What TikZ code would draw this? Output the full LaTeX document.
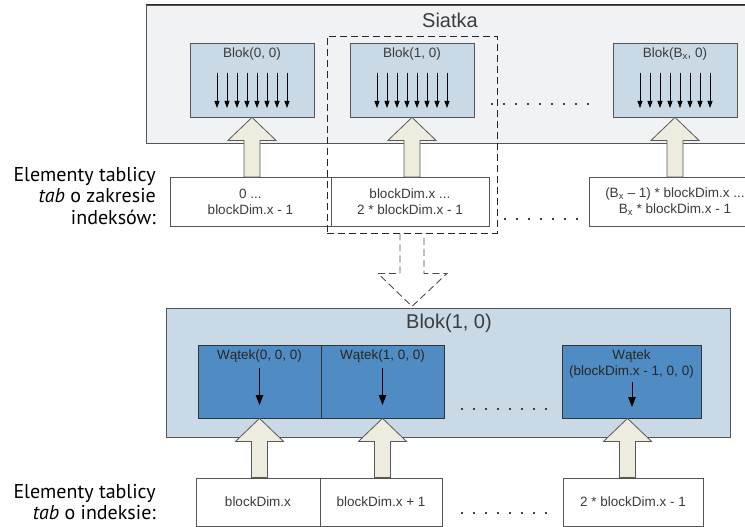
\documentclass[tikz,border=0pt]{standalone}
\usepackage{fontspec}
\setmainfont{Liberation Sans}
\newfontfamily\labfont{PT Sans}
\usepackage{tikz}
\usetikzlibrary{positioning,calc,arrows.meta}

\definecolor{gridfill}{HTML}{F1F2F4}
\definecolor{blokfill}{HTML}{C9D9E6}
\definecolor{watekfill}{HTML}{4F8CC4}
\definecolor{arrfill}{HTML}{EEECDF}
\definecolor{txtgray}{HTML}{3C3C3C}
\definecolor{edgegray}{HTML}{555555}

\tikzset{
  siatkabox/.style={draw=edgegray, fill=gridfill, line width=0.8pt, inner sep=0pt,
    minimum width=620pt, minimum height=138pt},
  blokbox/.style={draw=edgegray, fill=blokfill, line width=0.8pt, inner sep=0pt,
    minimum width=124pt, minimum height=74pt},
  bigblok/.style={draw=edgegray, fill=blokfill, line width=0.8pt, inner sep=0pt,
    minimum width=564pt, minimum height=129pt},
  watek/.style={draw=black!80, fill=watekfill, line width=0.8pt, inner sep=0pt,
    minimum width=123pt, minimum height=73pt},
  elem/.style={draw=edgegray, fill=white, line width=0.8pt, inner sep=0pt,
    minimum height=49pt, align=center, text=txtgray, font=\fontsize{13.5}{16}\selectfont},
  small/.style={text=txtgray, font=\fontsize{13.5}{16}\selectfont, align=center, inner sep=0pt},
  title/.style={text=txtgray, font=\fontsize{20}{24}\selectfont, inner sep=0pt},
  lab/.style={anchor=east, align=right, inner sep=0pt, font=\labfont\fontsize{20}{21.5}\selectfont},
  thr/.style={line width=0.8pt, -{Triangle[width=5pt,length=7pt]}},
  thrbig/.style={line width=1pt, -{Triangle[width=7.5pt,length=10pt]}},
  fatarr/.style={fill=arrfill, draw=gray!70!black, line width=0.8pt, line join=miter},
  selbox/.style={draw=black!85, dash pattern=on 7pt off 4pt, line width=0.9pt,
    inner sep=0pt, minimum width=170pt, minimum height=197pt},
  selarr/.style={draw=black!70, dash pattern=on 7pt off 4pt, line width=0.9pt},
  dots/.style={line width=1.6pt, dash pattern=on 1.6pt off 10.4pt, draw=black!75}
}

% fat up arrow: #1 = tip, #2 = foot
\newcommand{\fatarrow}[2]{%
  \draw[fatarr] let \p1=(#1), \p2=(#2) in
    (\x1,\y1) -- (\x1+24pt,\y1-23pt) -- (\x1+8pt,\y1-23pt) -- (\x1+8pt,\y2)
    -- (\x1-8pt,\y2) -- (\x1-8pt,\y1-23pt) -- (\x1-24pt,\y1-23pt) -- cycle;}

\begin{document}
\begin{tikzpicture}[x=1pt,y=-1pt]
    \useasboundingbox (0,0) rectangle (745,527);
    \clip (0,0) rectangle (745,527);

    % Grid
    \node[siatkabox] (siatka) at (456,74) {};
    \draw[line width=1.6pt, black!85] (siatka.north west) -- (siatka.north east);
    \node[title] (siatkaT) at (450,20) {Siatka};

    % Blocks in the grid
    \node[blokbox] (b0) at (252,80) {};
    \node[blokbox] (b1) at (412,80) {};
    \node[blokbox] (bx) at (675,80) {};
    \node[small] (b0T) at ($(b0.north)+(0,11)$) {Blok(0, 0)};
    \node[small] (b1T) at ($(b1.north)+(0,11)$) {Blok(1, 0)};
    \node[small] (bxT) at ($(bx.north)+(0,11)$) {Blok(B\textsubscript{x}, 0)};
    \foreach \b in {b0,b1,bx}
        \foreach \i in {0,...,7}
            \draw[thr] ($(\b.center)+(\i*10-35,-7)$) -- ++(0,35);
    \draw[dots] (491,104) -- (590,104);

    % Index ranges
    \node[elem, minimum width=161pt] (e0) at (250.5,202) {0 ...\\ blockDim.x - 1};
    \node[elem, minimum width=158pt] (e1) at (410,202) {blockDim.x ...\\ 2 * blockDim.x - 1};
    \node[elem, minimum width=172pt] (ex) at (675,202)
        {(B\textsubscript{x} -- 1) * blockDim.x ...\\ B\textsubscript{x} * blockDim.x - 1};
    \draw[dots] (504,219) -- (580,219);
    \node[lab] (lab1) at (156,196) {Elementy tablicy\\ \textit{tab} o zakresie\\ indeksów:};

    % Arrows into the blocks
    \fatarrow{b0.south}{e0.north}
    \fatarrow{b1.south}{e1.north}
    \fatarrow{bx.south}{ex.north}

    % Selected block
    \node[selbox] (sel) at (412,134.5) {};
    \draw[selarr] ($(sel.south)+(-12,0)$) |- ($(sel.south)+(-34,40)$)
        -- ($(sel.south)+(0,73)$) -- ($(sel.south)+(35,40)$) -| ($(sel.south)+(12,0)$);

    % Block (1, 0) with its threads
    \node[bigblok] (blok) at (448,372.5) {};
    \node[title] (blokT) at (449,323) {Blok(1, 0)};
    \node[watek] (t0) at (259.5,381.5) {};
    \node[watek] (t1) at (382.5,381.5) {};
    \node[watek, minimum width=139pt] (tx) at (631.5,381.5) {};
    \node[small, text=black!85] (t0T) at ($(t0.north)+(0,11)$) {Wątek(0, 0, 0)};
    \node[small, text=black!85] (t1T) at ($(t1.north)+(0,11)$) {Wątek(1, 0, 0)};
    \node[small, text=black!85] (txT) at ($(tx.north)+(0,19)$) {Wątek\\ (blockDim.x - 1, 0, 0)};
    \draw[thrbig] ($(t0.center)+(0,-13.5)$) -- ++(0,37);
    \draw[thrbig] ($(t1.center)+(0,-13.5)$) -- ++(0,37);
    \draw[thrbig] ($(tx.center)+(0.5,0.5)$) -- ++(0,25);
    \draw[dots] (461,409) -- (548,409);

    % Indices of the threads
    \node[elem, minimum width=124pt, minimum height=48pt] (f0) at (258,502) {blockDim.x};
    \node[elem, minimum width=122pt, minimum height=48pt] (f1) at (381,502) {blockDim.x + 1};
    \node[elem, minimum width=140pt, minimum height=48pt] (fx) at (633,502) {2 * blockDim.x - 1};
    \draw[dots] (461,513) -- (548,513);
    \node[lab] (lab2) at (156,502) {Elementy tablicy\\ \textit{tab} o indeksie:};

    % Arrows into the threads
    \fatarrow{t0.south}{f0.north}
    \fatarrow{t1.south}{f1.north}
    \fatarrow{$(tx.south)+(-4,0)$}{fx.north}
\end{tikzpicture}
\end{document}
